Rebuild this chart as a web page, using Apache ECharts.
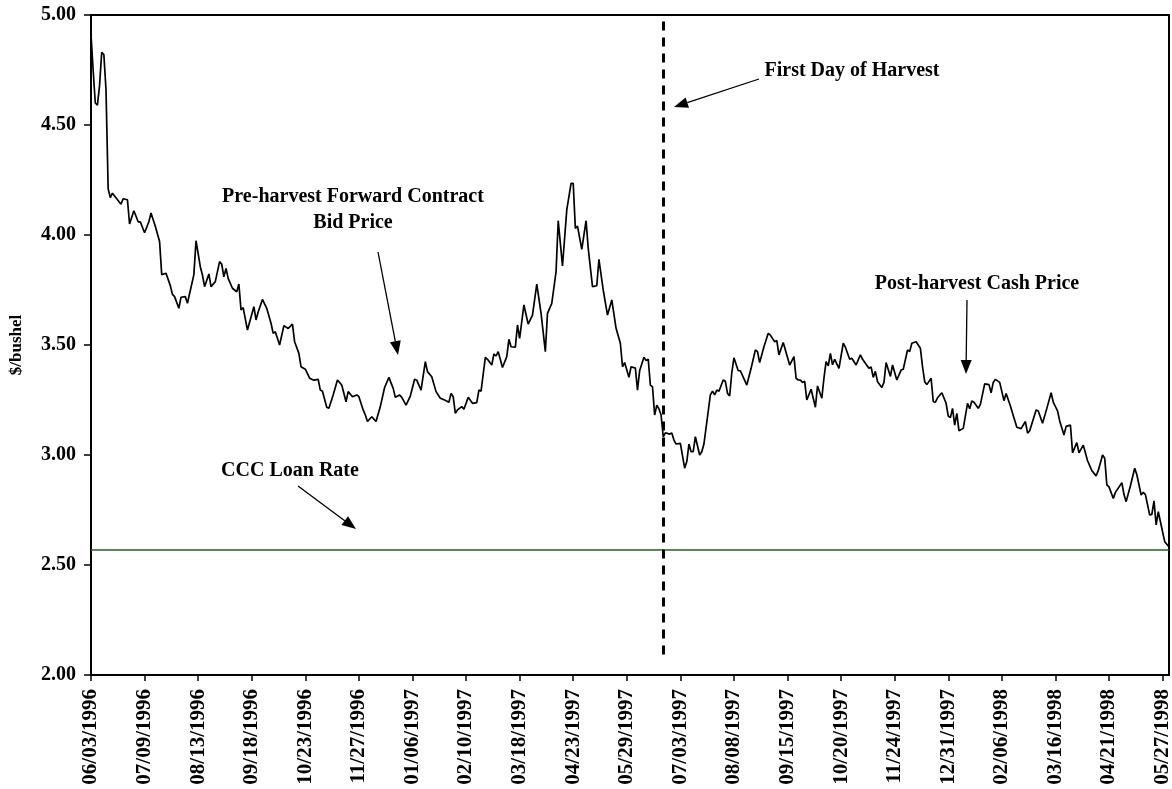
<!DOCTYPE html>
<html>
<head>
<meta charset="utf-8">
<title>Forward contract bid and cash price</title>
<script src="https://cdn.jsdelivr.net/npm/echarts@6/dist/echarts.min.js"></script>
<style>
  html, body { margin: 0; padding: 0; background: #fff; }
  #chart { width: 1172px; height: 789px; }
</style>
</head>
<body>
<div id="chart"></div>
<script>
// tick labels, one every 25 trading days
const tickLabels = [
  '06/03/1996', '07/09/1996', '08/13/1996', '09/18/1996', '10/23/1996', '11/27/1996',
  '01/06/1997', '02/10/1997', '03/18/1997', '04/23/1997', '05/29/1997', '07/03/1997',
  '08/08/1997', '09/15/1997', '10/20/1997', '11/24/1997', '12/31/1997', '02/06/1998',
  '03/16/1998', '04/21/1998', '05/27/1998'
]

// trading day index (0 = 06/03/1996) and $/bushel
const days = [
  0, 1, 2, 3, 4, 5, 6, 7, 8, 9, 10, 12, 14, 15, 17, 18, 20, 22, 23, 25,
  27, 28, 30, 32, 33, 35, 37, 38, 39, 41, 42, 44, 45, 48, 49, 51, 52, 53, 55, 56,
  58, 60, 61, 62, 63, 64, 66, 67, 68, 69, 70, 71, 73, 76, 77, 78, 80, 82, 84, 85,
  86, 88, 90, 92, 94, 95, 97, 98, 100, 102, 104, 106, 107, 108, 110, 111, 113, 115, 117, 119,
  120, 122, 124, 125, 127, 128, 129, 131, 133, 135, 137, 139, 141, 142, 144, 145, 147, 149, 151, 152,
  154, 156, 157, 159, 161, 163, 165, 167, 168, 169, 170, 171, 173, 174, 176, 178, 180, 181, 182, 184,
  185, 187, 188, 189, 190, 192, 194, 195, 196, 198, 199, 200, 202, 204, 206, 208, 210, 212, 213, 215,
  217, 218, 220, 222, 224, 225, 226, 227, 229, 231, 232, 234, 236, 237, 239, 241, 243, 245, 247, 248,
  249, 251, 252, 254, 255, 256, 258, 259, 260, 261, 262, 263, 264, 265, 266, 267, 268, 270, 271, 272,
  273, 275, 277, 278, 279, 280, 281, 282, 284, 285, 286, 289, 290, 291, 292, 293, 295, 296, 297, 298,
  299, 300, 302, 303, 306, 308, 310, 311, 312, 314, 316, 317, 319, 320, 321, 323, 326, 328, 329, 330,
  331, 332, 333, 334, 336, 338, 339, 341, 342, 343, 344, 345, 346, 347, 349, 351, 352, 354, 355, 357,
  359, 360, 363, 364, 365, 366, 367, 369, 370, 371, 373, 374, 376, 378, 379, 381, 382, 383, 385, 387,
  388, 389, 390, 392, 393, 394, 395, 397, 399, 400, 401, 402, 403, 404, 405, 407, 409, 410, 411, 412,
  414, 415, 417, 419, 420, 421, 422, 424, 426, 427, 429, 430, 432, 434, 436, 437, 438, 441, 442, 444,
  446, 448, 449, 451, 452, 454, 455, 457, 458, 460, 461, 463, 465, 467, 469, 470, 472, 473, 474, 475,
  477, 478, 481, 482, 483, 485, 487, 488, 490, 491, 492, 494, 495, 496, 497, 498, 500, 501, 503
]
const prices = [
  4.91, 4.75, 4.60, 4.59, 4.68, 4.83, 4.82, 4.66, 4.21, 4.17, 4.19, 4.165, 4.14, 4.165, 4.16, 4.05, 4.11, 4.06, 4.06, 4.01,
  4.06, 4.10, 4.04, 3.97, 3.82, 3.826, 3.77, 3.73, 3.72, 3.667, 3.717, 3.72, 3.69, 3.82, 3.974, 3.856, 3.818, 3.765, 3.823, 3.765,
  3.788, 3.879, 3.867, 3.81, 3.848, 3.803, 3.758, 3.75, 3.742, 3.777, 3.659, 3.67, 3.568, 3.674, 3.614, 3.65, 3.707, 3.667, 3.599, 3.553,
  3.56, 3.50, 3.588, 3.575, 3.595, 3.515, 3.462, 3.401, 3.39, 3.349, 3.34, 3.344, 3.295, 3.29, 3.217, 3.212, 3.273, 3.341, 3.318, 3.242,
  3.288, 3.265, 3.273, 3.265, 3.205, 3.182, 3.152, 3.174, 3.152, 3.22, 3.307, 3.353, 3.303, 3.262, 3.273, 3.262, 3.227, 3.268, 3.344, 3.34,
  3.295, 3.424, 3.379, 3.356, 3.288, 3.258, 3.25, 3.24, 3.28, 3.265, 3.189, 3.205, 3.22, 3.208, 3.262, 3.235, 3.238, 3.295, 3.29, 3.444,
  3.435, 3.409, 3.459, 3.45, 3.47, 3.398, 3.447, 3.526, 3.492, 3.49, 3.591, 3.53, 3.682, 3.595, 3.636, 3.777, 3.644, 3.47, 3.644, 3.689,
  3.833, 4.065, 3.859, 4.114, 4.235, 4.235, 4.03, 4.04, 3.935, 4.065, 3.94, 3.765, 3.77, 3.889, 3.75, 3.636, 3.705, 3.576, 3.508, 3.401,
  3.42, 3.353, 3.401, 3.395, 3.295, 3.383, 3.444, 3.43, 3.435, 3.318, 3.31, 3.182, 3.227, 3.21, 3.182, 3.083, 3.101, 3.095, 3.10, 3.068,
  3.05, 3.053, 2.94, 2.97, 3.05, 3.015, 3.015, 3.083, 3.0, 3.015, 3.05, 3.273, 3.29, 3.273, 3.295, 3.29, 3.341, 3.335, 3.28, 3.268,
  3.374, 3.442, 3.383, 3.383, 3.318, 3.394, 3.477, 3.47, 3.42, 3.492, 3.553, 3.545, 3.515, 3.52, 3.455, 3.511, 3.409, 3.447, 3.349, 3.341,
  3.34, 3.33, 3.335, 3.25, 3.299, 3.217, 3.314, 3.258, 3.35, 3.424, 3.405, 3.462, 3.41, 3.435, 3.394, 3.508, 3.49, 3.435, 3.44, 3.409,
  3.455, 3.435, 3.394, 3.40, 3.353, 3.38, 3.333, 3.307, 3.33, 3.42, 3.357, 3.409, 3.341, 3.386, 3.39, 3.477, 3.47, 3.508, 3.515, 3.485,
  3.401, 3.333, 3.32, 3.349, 3.242, 3.24, 3.26, 3.283, 3.235, 3.177, 3.17, 3.212, 3.136, 3.189, 3.11, 3.121, 3.235, 3.21, 3.245, 3.24,
  3.212, 3.23, 3.323, 3.32, 3.283, 3.33, 3.344, 3.33, 3.247, 3.28, 3.223, 3.19, 3.126, 3.12, 3.152, 3.099, 3.11, 3.205, 3.20, 3.144,
  3.212, 3.283, 3.24, 3.2, 3.155, 3.091, 3.13, 3.136, 3.01, 3.056, 3.01, 3.045, 2.974, 2.929, 2.905, 2.93, 3.0, 2.985, 2.864, 2.855,
  2.803, 2.83, 2.874, 2.82, 2.788, 2.86, 2.94, 2.91, 2.818, 2.83, 2.82, 2.727, 2.73, 2.792, 2.682, 2.742, 2.651, 2.606, 2.583
]

const loanRate = 2.57
const harvestDay = 267
const lastDay = 503

const serif = '"Liberation Serif", "Times New Roman", serif'

const chart = echarts.init(document.getElementById('chart'))

const arrow = (x1, y1, x2, y2) => {
  const a = Math.atan2(y2 - y1, x2 - x1)
  const len = 14
  const half = 5.5
  const bx = x2 - len * Math.cos(a)
  const by = y2 - len * Math.sin(a)
  return [
    { type: 'line', shape: { x1, y1, x2: bx, y2: by }, style: { stroke: '#000', lineWidth: 1.3 } },
    {
      type: 'polygon',
      shape: { points: [[x2, y2], [bx + half * Math.sin(a), by - half * Math.cos(a)], [bx - half * Math.sin(a), by + half * Math.cos(a)]] },
      style: { fill: '#000' }
    }
  ]
}

const note = (text, x, y) => ({
  type: 'text',
  x,
  y,
  style: {
    text,
    font: 'bold 20px ' + serif,
    fill: '#000',
    align: 'center',
    verticalAlign: 'middle',
    textAlign: 'center',
    textVerticalAlign: 'middle'
  }
})

const option = {
  animation: false,
  backgroundColor: '#fff',
  grid: {
    left: 91,
    right: 3,
    top: 15,
    bottom: 114,
    outerBoundsMode: 'none',
    containLabel: false,
    show: true,
    borderColor: '#000',
    borderWidth: 2
  },
  xAxis: {
    type: 'value',
    min: 0,
    max: lastDay,
    interval: 25,
    splitLine: { show: false },
    axisLine: { show: true, lineStyle: { color: '#000', width: 2 } },
    axisTick: { show: true, length: 6, lineStyle: { color: '#000', width: 1.5 } },
    axisLabel: {
      rotate: 90,
      margin: 14,
      showMaxLabel: false,
      color: '#000',
      fontFamily: serif,
      fontWeight: 'bold',
      fontSize: 21,
      formatter: v => tickLabels[Math.round(v / 25)] || ''
    }
  },
  yAxis: {
    type: 'value',
    min: 2,
    max: 5,
    interval: 0.5,
    name: '$/bushel',
    nameLocation: 'middle',
    nameRotate: 90,
    nameGap: 66,
    nameTextStyle: { color: '#000', fontFamily: serif, fontWeight: 'bold', fontSize: 17 },
    splitLine: { show: false },
    axisLine: { show: true, lineStyle: { color: '#000', width: 2 } },
    axisTick: { show: true, length: 7, lineStyle: { color: '#000', width: 1.5 } },
    axisLabel: {
      margin: 15,
      color: '#000',
      fontFamily: serif,
      fontWeight: 'bold',
      fontSize: 20,
      formatter: v => v.toFixed(2)
    }
  },
  series: [
    {
      type: 'line',
      data: days.map((d, i) => [d, prices[i]]),
      showSymbol: false,
      smooth: false,
      lineStyle: { color: '#000', width: 1.7 },
      markLine: {
        silent: true,
        symbol: 'none',
        label: { show: false },
        data: [
          { yAxis: loanRate, lineStyle: { color: '#2d5a27', width: 1.5, type: 'solid' } },
          [
            { coord: [harvestDay, 4.97], lineStyle: { color: '#000', width: 3, type: [9, 7] } },
            { coord: [harvestDay, 2.07] }
          ]
        ]
      }
    }
  ],
  graphic: [
    note('Pre-harvest Forward Contract', 353, 197),
    note('Bid Price', 353, 223),
    ...arrow(378, 252, 398, 355),
    note('First Day of Harvest', 852, 71),
    ...arrow(759, 79, 674, 107),
    note('Post-harvest Cash Price', 977, 284),
    ...arrow(967, 300, 966, 374),
    note('CCC Loan Rate', 290, 471),
    ...arrow(298, 486, 356, 529)
  ]
}

chart.setOption(option)
</script>
</body>
</html>
